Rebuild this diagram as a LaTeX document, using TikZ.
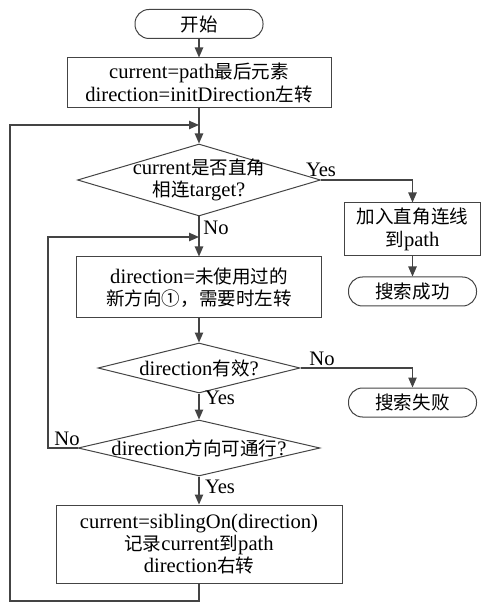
\documentclass[tikz,border=0pt]{standalone}
\usepackage{fontspec}
\setmainfont{Liberation Serif}
\newfontfamily\cjk[Scale=0.9]{Noto Sans CJK SC}
\newcommand{\zh}[1]{{\cjk #1}}
\usepackage{tikz}
\usetikzlibrary{shapes.geometric,arrows.meta}
\definecolor{linegray}{RGB}{68,68,68}

\begin{document}
\begin{tikzpicture}[x=0.5pt,y=-0.5pt,
		every node/.style={font=\fontsize{10.3}{11.2}\selectfont},
		line/.style={draw=linegray, line width=0.6pt},
		arr/.style={line, -{Triangle[length=5pt,width=4.2pt]}},
		proc/.style={draw=linegray, line width=0.5pt, align=center, inner sep=0pt},
		term/.style={proc, rounded corners=7pt, minimum width=64pt, minimum height=14.5pt},
		cond/.style={draw=linegray, line width=0.5pt, diamond, inner sep=0pt}]
					\useasboundingbox (0,0) rectangle (481,603);

					\node[term] (start) at (199,24) {\zh{开始}};
					\node[proc, minimum width=132pt, minimum height=25pt] (init) at (199,83) {current=path\zh{最后元素}\\direction=initDirection\zh{左转}};
					\node[cond, minimum width=121.5pt, minimum height=36pt,
						label={[align=center]center:{current\zh{是否直角}\\\zh{相连}target?}}] (isconn) at (199,180) {};
					\node[proc, minimum width=68pt, minimum height=26.5pt] (addline) at (412.5,229.5) {\zh{加入直角连线}\\\zh{到}path};
					\node[term] (succ) at (412.5,291.5) {\zh{搜索成功}};
					\node[proc, minimum width=122.5pt, minimum height=30.5pt] (newdir) at (199,287.5) {direction=\zh{未使用过的}\\\zh{新方向①，需要时左转}};
					\node[cond, minimum width=101pt, minimum height=25pt,
						label={center:direction\zh{有效}?}] (valid) at (199,368) {};
					\node[term] (fail) at (412.5,402.5) {\zh{搜索失败}};
					\node[cond, minimum width=121pt, minimum height=28pt,
						label={center:direction\zh{方向可通行}?}] (pass) at (199,448) {};
					\node[proc, minimum width=143pt, minimum height=39pt] (move) at (199,544) {current=siblingOn(direction)\\\zh{记录}current\zh{到}path\\direction\zh{右转}};

					\node[] (yes1) at (321,170) {Yes};
					\node[] (no1) at (216,228) {No};
					\node[] (no2) at (322,359) {No};
					\node[] (yes2) at (220,398) {Yes};
					\node[] (no3) at (67,439) {No};
					\node[] (yes3) at (220,487) {Yes};

					\coordinate (in1) at (199,125);
					\coordinate (in2) at (199,237);
					\coordinate (back1) at (10,601);
					\coordinate (back2) at (48,237);

					\draw[arr] (start) -- (init);
					\draw[line] (init) -- (in1);
					\draw[arr] (in1) -- (isconn.north);
					\draw[arr] (isconn.east) -| (addline.north);
					\draw[arr] (addline) -- (succ);
					\draw[line] (isconn.south) -- (in2);
					\draw[arr] (in2) -- (newdir);
					\draw[arr] (newdir) -- (valid.north);
					\draw[arr] (valid.east) -| (fail.north);
					\draw[arr] (valid.south) -- (pass.north);
					\draw[arr] (pass.west) -| (back2) -- (in2);
					\draw[arr] (pass.south) -- (move);
					\draw[arr] (move.south) |- (back1) |- (in1);

				\end{tikzpicture}
\end{document}
